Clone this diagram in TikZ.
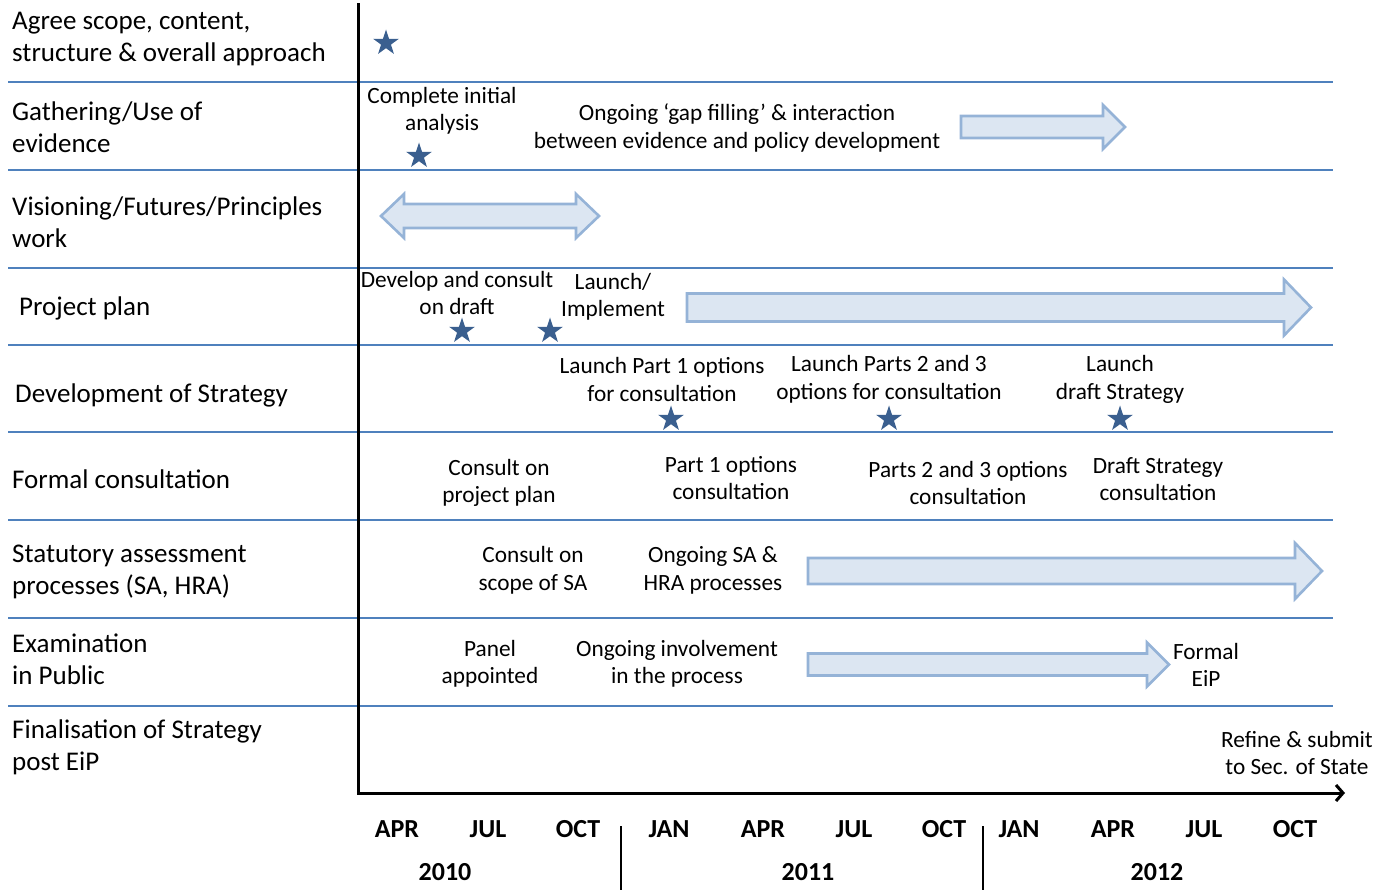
\documentclass[tikz,border=0pt]{standalone}
\usepackage{fontspec}
\setmainfont{Carlito}
\usetikzlibrary{shapes.geometric,arrows.meta}
\definecolor{rowline}{HTML}{4F81BD}
\definecolor{arrfill}{HTML}{DCE6F2}
\definecolor{arrdraw}{HTML}{95B3D7}
\definecolor{starcol}{HTML}{3A5F8F}
\newcommand\rblock[6]{% x0, tip, yc, h, H, L
  \draw[blockarrow] (#1,{#3-#4}) -- ({#2-#6},{#3-#4}) -- ({#2-#6},{#3-#5}) -- (#2,#3)
    -- ({#2-#6},{#3+#5}) -- ({#2-#6},{#3+#4}) -- (#1,{#3+#4}) -- cycle;}
\tikzset{
  lbl/.style={font=\fontsize{27}{32}\selectfont, align=left, anchor=west, inner sep=0pt},
  txt/.style={font=\fontsize{23.3}{27.5}\selectfont, align=center, inner sep=0pt},
  mon/.style={font=\bfseries\fontsize{26}{28}\selectfont, inner sep=0pt},
  evstar/.style={star, star points=5, star point ratio=2.6, fill=starcol, inner sep=0pt, minimum size=27pt},
  rowsep/.style={rowline, line width=1.6pt},
  blockarrow/.style={draw=arrdraw, fill=arrfill, line width=2.6pt, line join=miter},
  axis/.style={black, line width=3pt},
  yearsep/.style={black, line width=1.8pt}
}
\begin{document}
\begin{tikzpicture}[x=1pt,y=-1pt]
\useasboundingbox (0,0) rectangle (1377,890);
% row separators
\foreach \yy/\nm in {82/a,170/b,268/c,345/d,432/e,520/f,618/g,706/h}{
  \coordinate (L\nm) at (8,\yy); \coordinate (R\nm) at (1333,\yy);
  \draw[rowsep] (L\nm) -- (R\nm);
}
% axes
\coordinate (top) at (358,5);
\coordinate (orig) at (358,793);
\coordinate (xend) at (1345,793);
\draw[axis, line cap=rect] (top) -- (orig);
\draw[axis, -{Straight Barb[length=7pt,width=16pt,line width=3pt]}] (orig) -- (xend);
% year separators
\coordinate (s1a) at (621,826); \coordinate (s1b) at (621,890);
\coordinate (s2a) at (983,826); \coordinate (s2b) at (983,890);
\draw[yearsep] (s1a) -- (s1b);
\draw[yearsep] (s2a) -- (s2b);
% months
\node[mon] (m1) at (397,829) {APR};
\node[mon] (m2) at (488,829) {JUL};
\node[mon] (m3) at (578,829) {OCT};
\node[mon] (m4) at (669,829) {JAN};
\node[mon] (m5) at (763,829) {APR};
\node[mon] (m6) at (854,829) {JUL};
\node[mon] (m7) at (944,829) {OCT};
\node[mon] (m8) at (1019,829) {JAN};
\node[mon] (m9) at (1113,829) {APR};
\node[mon] (m10) at (1204,829) {JUL};
\node[mon] (m11) at (1295,829) {OCT};
\node[mon] (y1) at (445,872) {2010};
\node[mon] (y2) at (808,872) {2011};
\node[mon] (y3) at (1157,872) {2012};
% left labels
\node[lbl] (l1) at (12,39.5) {Agree scope, content,\\structure \& overall approach};
\node[lbl] (l2) at (12,127) {Gathering/Use of\\evidence};
\node[lbl] (l3) at (12,222) {Visioning/Futures/Principles\\work};
\node[lbl] (l4) at (19,308) {Project plan};
\node[lbl] (l5) at (15,395) {Development of Strategy};
\node[lbl] (l6) at (12,479) {Formal consultation};
\node[lbl] (l7) at (12,572) {Statutory assessment\\processes (SA, HRA)};
\node[lbl] (l8) at (12,659.5) {Examination\\in Public};
\node[lbl] (l9) at (12,747) {Finalisation of Strategy\\post EiP};
% row 1
\node[evstar] (st1) at (386,43) {};
% row 2
\node[txt] (t21) at (442,111) {Complete initial\\analysis};
\node[evstar] (st2) at (419,156) {};
\node[txt] (t22) at (737,128) {Ongoing ‘gap filling’ \& interaction\\between evidence and policy development};
\rblock{961}{1125}{127}{11}{22}{22}
% row 3 double arrow
\draw[blockarrow] (381,216) -- (404,194) -- (404,204) -- (576,204) -- (576,194) -- (599,216)
  -- (576,238) -- (576,228) -- (404,228) -- (404,238) -- cycle;
% row 4
\node[txt] (t41) at (457,293) {Develop and consult\\on draft};
\node[evstar] (st41) at (462,331) {};
\node[evstar] (st42) at (550,331) {};
\node[txt] (t42) at (613,297) {Launch/\\Implement};
\rblock{687}{1311}{307.5}{14}{28}{27}
% row 5
\node[txt] (t51) at (662,379.5) {Launch Part 1 options\\for consultation};
\node[evstar] (st51) at (671,419) {};
\node[txt] (t52) at (889,379.5) {Launch Parts 2 and 3\\options for consultation};
\node[evstar] (st52) at (889,419) {};
\node[txt] (t53) at (1120,379.5) {Launch\\draft Strategy};
\node[evstar] (st53) at (1120,419) {};
% row 6
\node[txt] (t61) at (499,483) {Consult on\\project plan};
\node[txt] (t62) at (731,478) {Part 1 options\\consultation};
\node[txt] (t63) at (968,483) {Parts 2 and 3 options\\consultation};
\node[txt] (t64) at (1158,479) {Draft Strategy\\consultation};
% row 7
\node[txt] (t71) at (533,570.5) {Consult on\\scope of SA};
\node[txt] (t72) at (713,570.5) {Ongoing SA \&\\HRA processes};
\rblock{808}{1322}{571}{13}{28}{27}
% row 8
\node[txt] (t81) at (490,664) {Panel\\appointed};
\node[txt] (t82) at (677,664) {Ongoing involvement\\in the process};
\rblock{808}{1169}{664.5}{11}{22}{22}
\node[txt] (t83) at (1206,665) {Formal\\EiP};
% row 9
\node[txt] (t91) at (1297,753) {Refine \& submit\\to Sec. of State};
\end{tikzpicture}
\end{document}
